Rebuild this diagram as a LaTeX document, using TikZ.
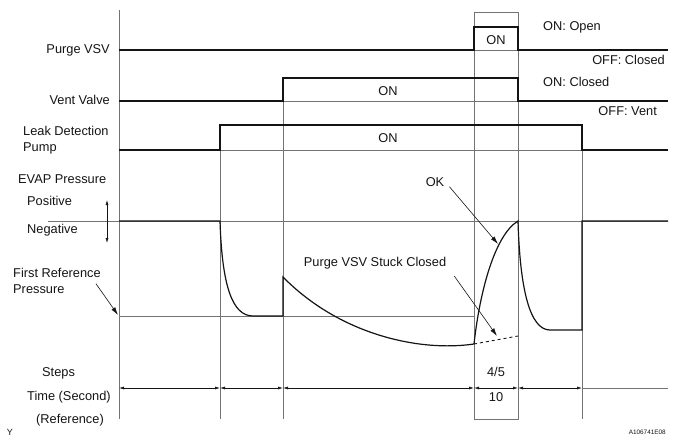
\documentclass[tikz,border=0pt]{standalone}
\usepackage{fontspec}
\setmainfont{Liberation Sans}
\definecolor{ink}{RGB}{20,20,20}
\definecolor{guidegray}{RGB}{115,115,115}
\usepackage{tikz}
\usetikzlibrary{arrows.meta,positioning,calc}
\tikzset{
  lbl/.style={font=\fontsize{12.8}{15.5}\selectfont,inner sep=0pt,
              align=left,ink},
  sig/.style={line width=1.2pt,ink,line join=miter},
  guide/.style={line width=0.6pt,guidegray},
  callout/.style={-{Latex[length=8pt,width=4.5pt]},line width=0.6pt,ink},
  timespan/.style={{Latex[length=5pt,width=3pt]}-{Latex[length=5pt,width=3pt]},
                   line width=0.6pt,ink},
}

\begin{document}
\begin{tikzpicture}[x=1pt,y=-1pt]
        \useasboundingbox (0,0) rectangle (692,446);
        % frame and guide lines
        \draw[guide] (119,10) -- (119,419);
        \draw[guide] (474,12) rectangle (518,419);
        \draw[guide] (220,125) -- (220,419);
        \draw[guide] (283,78) -- (283,419);
        \draw[guide] (582,125) -- (582,419);
        \draw[guide] (474,50) -- (518,50);
        \draw[guide] (283,101) -- (518,101);
        \draw[guide] (220,150) -- (582,150);
        \draw[guide] (48,221) -- (668,221);
        \draw[guide] (119,316) -- (474,316);
        % on/off signals
        \draw[sig] (119,50) -- (474,50) -- (474,27) -- (518,27) -- (518,50) -- (668,50);
        \draw[sig] (119,101) -- (283,101) -- (283,78) -- (518,78) -- (518,101) -- (668,101);
        \draw[sig] (119,150) -- (220,150) -- (220,125) -- (582,125) -- (582,150) -- (668,150);
        % EVAP pressure
        \draw[sig] (119,221) -- (220,221) .. controls (222,285) and (232,316) .. (253,316)
            -- (283,316) -- (283,277) .. controls (340,335) and (420,352) .. (474,344);
        \draw[sig] (474,344) .. controls (480,290) and (495,235) .. (518,221)
            .. controls (520,290) and (530,330) .. (550,330) -- (582,330) -- (582,221) -- (668,221);
        \draw[sig,dashed,line width=0.9pt] (474,344) -- (518,336);
        % left labels
        \node[lbl,anchor=east] (lblPurge) at (110,50) {Purge VSV};
        \node[lbl,anchor=east] (lblVent) at (110,100) {Vent Valve};
        \node[lbl,anchor=west] (lblPump) at (23,140) {Leak Detection\\Pump};
        \node[lbl,anchor=west] (lblEvap) at (18,179) {EVAP Pressure};
        \node[lbl,anchor=west] (lblPos) at (27,201) {Positive};
        \node[lbl,anchor=west] (lblNeg) at (27,230) {Negative};
        \node[lbl,anchor=west] (lblFirst) at (13,281) {First Reference\\Pressure};
        \node[lbl,anchor=west] (lblSteps) at (42,373) {Steps};
        \node[lbl,anchor=west] (lblTime) at (27,397) {Time (Second)};
        \node[lbl,anchor=west] (lblRefer) at (36,420) {(Reference)};
        \node[lbl,font=\fontsize{9}{10}\selectfont] (lblY) at (10,432) {Y};
        % right labels
        \node[lbl,anchor=west] (lblOpen) at (543,27) {ON: Open};
        \node[lbl,anchor=east] (lblOffClosed) at (665,60) {OFF: Closed};
        \node[lbl,anchor=west] (lblOnClosed) at (543,82) {ON: Closed};
        \node[lbl,anchor=east] (lblOffVent) at (657,111) {OFF: Vent};
        \node[lbl,anchor=east,font=\fontsize{6.4}{7}\selectfont] (lblCode) at (666,432) {A106741E08};
        % ON states
        \node[lbl] (onPurge) at (496,40) {ON};
        \node[lbl] (onVent) at (388,91) {ON};
        \node[lbl] (onPump) at (388,138) {ON};
        % step values
        \node[lbl] (stepVal) at (496,372) {4/5};
        \node[lbl] (timeVal) at (496,397) {10};
        % callouts
        \node[lbl] (lblOK) at (435,182) {OK};
        \node[lbl] (lblStuck) at (375,263) {Purge VSV Stuck Closed};
        \coordinate (firstTip) at (118,315);
        \coordinate (okTip) at (498,244);
        \coordinate (stuckTip) at (497,336);
        \coordinate (posEnd) at (107,200);
        \coordinate (negEnd) at (107,243);
        \draw[callout] ([xshift=-5pt,yshift=10pt]lblFirst.south east) -- (firstTip);
        \draw[callout] ([xshift=5pt]lblOK.south east) -- (okTip);
        \draw[callout] ([xshift=8pt,yshift=-7pt]lblStuck.south east) -- (stuckTip);
        \draw[timespan] (posEnd) -- (negEnd);
        % time spans
        \foreach \a/\b in {119/220,220/283,283/474,474/518,518/582}
          \draw[timespan] (\a,388) -- (\b,388);
        \draw[guide] (582,388) -- (668,388);
      \end{tikzpicture}
\end{document}
